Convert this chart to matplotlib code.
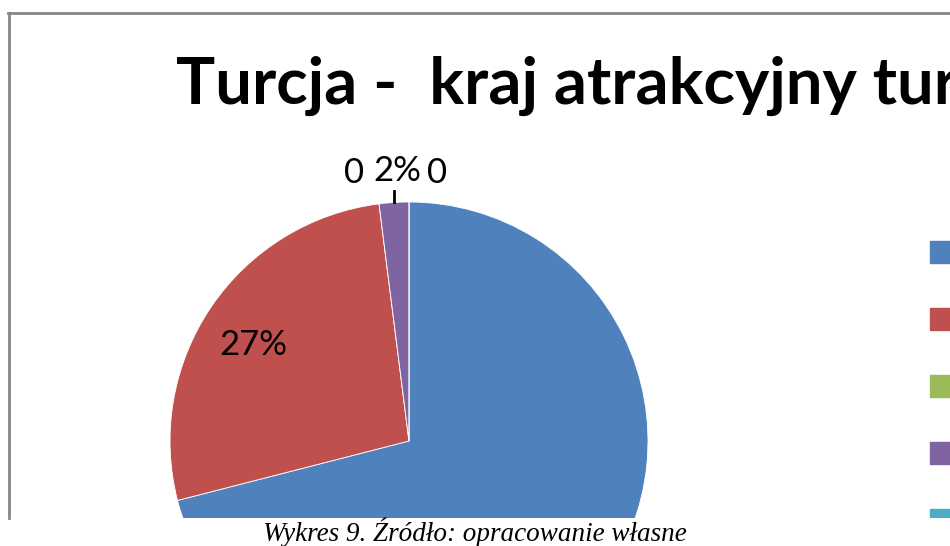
import numpy as np
import matplotlib.pyplot as plt
from matplotlib.lines import Line2D

# slice values (percent) and colours, Excel order
values = [71, 27, 0, 2, 0]
colors = ['#4F81BD', '#C0504D', '#9BBB59', '#8064A2', '#4BACC6']
labels = ['71%', '27%', '0', '2%', '0']

title = 'Turcja -  kraj atrakcyjny turystycznie'
caption = 'Wykres 9. Źródło: opracowanie własne'

W, H = 950, 546
fig = plt.figure(figsize=(W / 100, H / 100), dpi=100)

# chart area (the screenshot is cropped on the right and bottom)
left, top, bottom = 8, 12, 518
right = 1010
ax = fig.add_axes([left / W, (H - bottom) / H, (right - left) / W, (bottom - top) / H])

cx, cy, r = 409, H - 441, 239
wedges, _ = ax.pie(values, colors=colors, startangle=90, counterclock=False,
                   center=(cx, cy), radius=r, frame=True,
                   wedgeprops=dict(edgecolor='white', linewidth=0.6))
for w in wedges:
    w.set_clip_on(True)
ax.set_xlim(left, right)
ax.set_ylim(H - bottom, H - top)
ax.axis('off')

# chart border (left and top edge visible)
ax.add_line(Line2D([left + 0.5, left + 0.5], [H - bottom, H - top - 0.5], color='#868686', lw=2, clip_on=False))
ax.add_line(Line2D([left, right], [H - top - 0.5, H - top - 0.5], color='#868686', lw=2, clip_on=False))

lab_font = dict(family=['Lato', 'DejaVu Sans'], fontsize=25, color='black')

# inside label for red slice
w = wedges[1]
mid = np.deg2rad((w.theta1 + w.theta2) / 2 + 2.4)
ax.text(cx + 0.765 * r * np.cos(mid), cy + 0.765 * r * np.sin(mid), labels[1],
        ha='center', va='center', **lab_font)

# outside labels for the small slices at the top
w = wedges[3]
mid = np.deg2rad((w.theta1 + w.theta2) / 2)
px, py = cx + r * np.cos(mid), cy + r * np.sin(mid)
ax.text(px + 3, py + 31, labels[3], ha='center', va='center', **lab_font)
ax.text(px - 40, py + 29, labels[2], ha='center', va='center', **lab_font)
ax.text(px + 43, py + 29, labels[4], ha='center', va='center', **lab_font)
ax.add_line(Line2D([px, px], [py, py + 11], color='black', lw=2))

ax.text(176, H - 86, title, ha='left', va='center', fontsize=47, fontweight='bold',
        family=['Lato', 'DejaVu Sans'], clip_on=True)

# legend squares (their labels fall outside the crop)
for i, c in enumerate(colors):
    ax.add_patch(plt.Rectangle((930, H - 263 - 67 * i), 22, 22, color=c, clip_on=True))

fig.text(475 / W, 1 - 532 / H, caption, ha='center', va='center', fontsize=19.5,
         style='italic', family=['Liberation Serif', 'DejaVu Serif'])

fig.savefig('out.png', dpi=100)
